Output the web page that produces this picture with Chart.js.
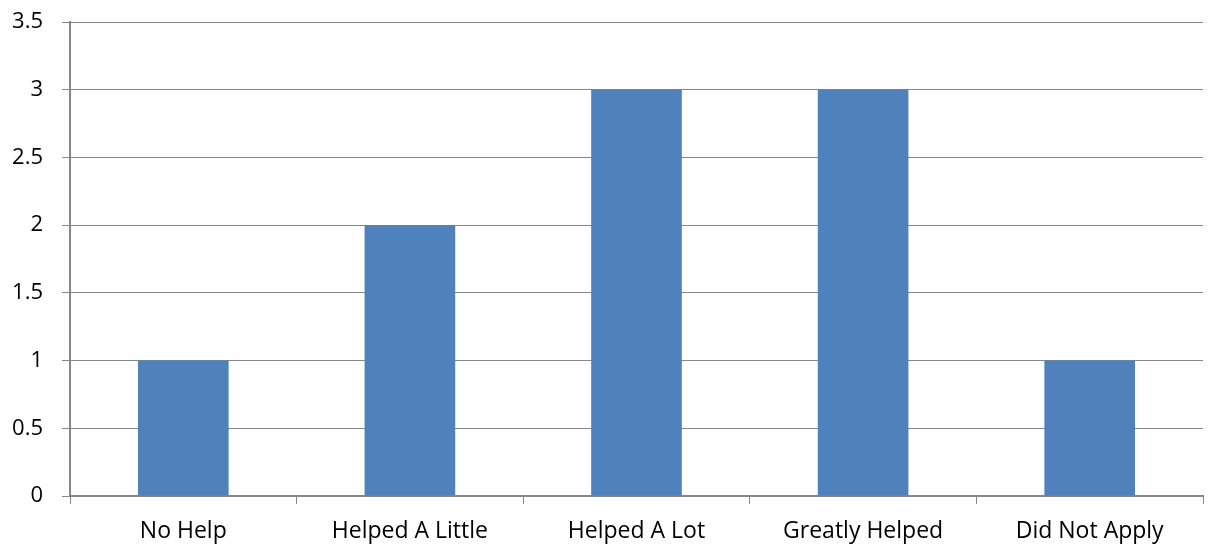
<!DOCTYPE html>
<html>
<head>
<meta charset="utf-8">
<script src="https://cdn.jsdelivr.net/npm/chart.js@4/dist/chart.umd.min.js"></script>
<style>
  html, body { margin: 0; padding: 0; background: #ffffff; }
  #wrap { width: 1208px; height: 544px; }
</style>
</head>
<body>
<div id="wrap"><canvas id="chart" width="1208" height="544"></canvas></div>
<script>
// Survey responses per category
const categories = ["No Help", "Helped A Little", "Helped A Lot", "Greatly Helped", "Did Not Apply"];
const counts = [1, 2, 3, 3, 1];
const yTicks = [0, 0.5, 1, 1.5, 2, 2.5, 3, 3.5];

const axisColor = "#878787";
const fontFamily = "'Open Sans', 'Liberation Sans', sans-serif";

new Chart(document.getElementById("chart"), {
  type: "bar",
  data: {
    labels: categories,
    datasets: [{
      data: counts,
      backgroundColor: "#4f81bd",
      borderWidth: 0,
      barPercentage: 0.4,
      categoryPercentage: 1.0
    }]
  },
  options: {
    responsive: false,
    animation: false,
    devicePixelRatio: 1,
    layout: { padding: { top: 22, right: 5, left: 0, bottom: 0 } },
    plugins: { legend: { display: false }, tooltip: { enabled: false } },
    scales: {
      x: {
        offset: true,
        grid: {
          offset: true,
          drawOnChartArea: false,
          color: axisColor,
          tickLength: 8,
          lineWidth: 1
        },
        border: { color: axisColor, width: 2 },
        ticks: {
          color: "#000000",
          font: { family: fontFamily, size: 23 },
          padding: 14,
          maxRotation: 0
        },
        afterFit(scale) {
          scale.height = 48;
          scale.paddingLeft = 0;
          scale.paddingRight = 0;
        }
      },
      y: {
        min: 0,
        max: 3.5,
        afterBuildTicks(scale) { scale.ticks = yTicks.map(v => ({ value: v })); },
        grid: { color: axisColor, tickLength: 8, lineWidth: 1 },
        border: { color: axisColor, width: 2 },
        ticks: {
          color: "#000000",
          font: { family: fontFamily, size: 22 },
          padding: 19,
          callback: v => String(v)
        },
        afterFit(scale) {
          scale.width = 70;
          scale.paddingTop = 0;
          scale.paddingBottom = 0;
        }
      }
    }
  }
});
</script>
</body>
</html>
